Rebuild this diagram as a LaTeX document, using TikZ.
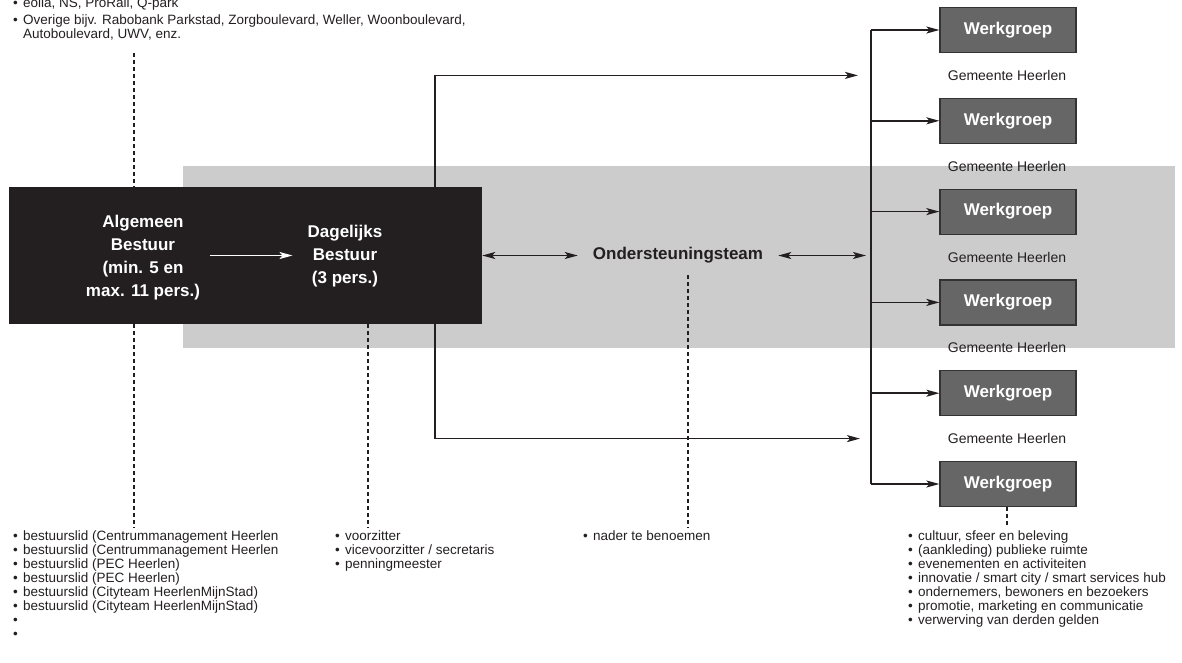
\documentclass[tikz,border=0pt]{standalone}
\usepackage{fontspec}
\setmainfont{Liberation Sans}
\usetikzlibrary{arrows.meta,positioning}

\definecolor{zwart}{HTML}{231F20}
\definecolor{grijs}{HTML}{CCCCCC}
\definecolor{wgvul}{HTML}{666666}
\definecolor{wgrand}{HTML}{333333}

\newcommand{\bul}{\makebox[10pt][l]{\textbullet}}

\begin{document}
\begin{tikzpicture}[x=1pt,y=-1pt,>={Stealth[length=13pt,width=7pt,inset=3pt]},
  lijn/.style={draw=zwart,line width=1.6pt},
  pijl/.style={lijn,->},
  stippel/.style={draw=zwart,line width=1.2pt,dash pattern=on 4pt off 3pt},
  klein/.style={font=\fontsize{13.5}{14}\selectfont,text=zwart,inner sep=0pt},
  lijst/.style={klein,align=left,anchor=north west},
  vet/.style={font=\fontsize{17}{23}\selectfont\bfseries,align=center},
  werkgroep/.style={vet,draw=wgrand,line width=1.2pt,fill=wgvul,text=white,
    minimum width=136pt,minimum height=45pt,inner sep=0pt}]
\useasboundingbox (0,0) rectangle (1182,662);

% grijze band
\fill[grijs] (183,166) rectangle (1175,348);

% bestuur
\node[fill=zwart,minimum width=473pt,minimum height=137pt,inner sep=0pt] (bestuur) at (245.5,255.5) {};
\node[vet,text=white,inner xsep=10pt,inner ysep=2pt] (ab) at (143,258)
  {Algemeen\\Bestuur\\(min. 5 en\\max. 11 pers.)};
\node[vet,text=white,inner xsep=15pt,inner ysep=2pt] (db) at (345,256.5)
  {Dagelijks\\Bestuur\\(3 pers.)};
\draw[->,white,line width=1.6pt] (ab.east |- bestuur.east) -- (db.west |- bestuur.east);

\node[vet,text=zwart,inner xsep=15pt,inner ysep=2pt] (ot) at (678,255.5) {Ondersteuningsteam};

% werkgroepen
\foreach \i in {1,...,6}
  \node[werkgroep] (wg\i) at (1008,{30+90.8*(\i-1)}) {Werkgroep};
\foreach \i in {1,...,5}
  \node[klein,font=\fontsize{14}{14}\selectfont] (gh\i) at (1007,{75.4+90.8*(\i-1)}) {Gemeente Heerlen};

\coordinate (bus) at (871,0);
\coordinate (tak) at (435,0);
\draw[lijn] (bus |- wg1.west) -- (bus |- wg6.west);
\foreach \i in {1,...,6}
  \draw[pijl] (bus |- wg\i.west) -- (wg\i.west);

\draw[pijl,<->] (bestuur.east |- ot.west) -- (ot.west);
\draw[pijl,<->,shorten >=5pt] (ot.east) -- (ot.east -| bus);
\draw[pijl,shorten >=13pt] (tak |- bestuur.north) -- (tak |- gh1) -- (bus |- gh1);
\draw[pijl,shorten >=11pt] (tak |- bestuur.south) -- (tak |- gh5) -- (bus |- gh5);

% lijsten
\node[lijst] (partners) at (13,-2.2)
  {\bul eolia, NS, ProRail, Q-park\\[3pt]
   \bul Overige bijv. Rabobank Parkstad, Zorgboulevard, Weller, Woonboulevard,\\
   \hspace*{10pt}Autoboulevard, UWV, enz.};
\node[lijst] (ablijst) at (13,531)
  {\bul bestuurslid (Centrummanagement Heerlen\\
   \bul bestuurslid (Centrummanagement Heerlen\\
   \bul bestuurslid (PEC Heerlen)\\
   \bul bestuurslid (PEC Heerlen)\\
   \bul bestuurslid (Cityteam HeerlenMijnStad)\\
   \bul bestuurslid (Cityteam HeerlenMijnStad)\\
   \bul\\
   \bul};
\node[lijst] (dblijst) at (335,531)
  {\bul voorzitter\\
   \bul vicevoorzitter / secretaris\\
   \bul penningmeester};
\node[lijst] (otlijst) at (583,531) {\bul nader te benoemen};
\node[lijst] (wglijst) at (908,531)
  {\bul cultuur, sfeer en beleving\\
   \bul (aankleding) publieke ruimte\\
   \bul evenementen en activiteiten\\
   \bul innovatie / smart city / smart services hub\\
   \bul ondernemers, bewoners en bezoekers\\
   \bul promotie, marketing en communicatie\\
   \bul verwerving van derden gelden};

% stippellijnen
\coordinate (ab-boven) at (134,53);
\coordinate (ab-onder) at (134,528);
\coordinate (db-onder) at (368,528);
\coordinate (ot-boven) at (688,275);
\coordinate (ot-onder) at (688,528);
\coordinate (wg-onder) at (1007,526);
\draw[stippel] (ab-boven) -- (ab-boven |- bestuur.north);
\draw[stippel] (ab-onder |- bestuur.south) -- (ab-onder);
\draw[stippel] (db-onder |- bestuur.south) -- (db-onder);
\draw[stippel] (ot-boven) -- (ot-onder);
\draw[stippel] (wg6.south -| wg-onder) -- (wg-onder);
\end{tikzpicture}
\end{document}
